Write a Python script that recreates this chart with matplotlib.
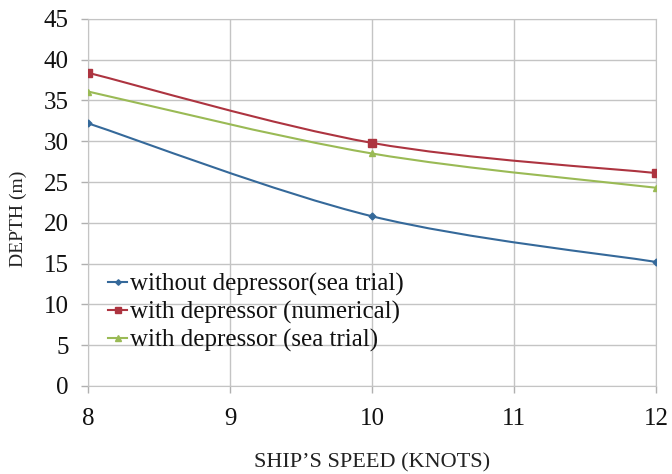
import numpy as np
import matplotlib
matplotlib.use("Agg")
import matplotlib.pyplot as plt
from matplotlib.path import Path
from matplotlib.patches import PathPatch
from matplotlib.lines import Line2D

speed = [8, 10, 12]
depth_without_sea = [32.2, 20.8, 15.2]
depth_with_num = [38.4, 29.8, 26.1]
depth_with_sea = [36.1, 28.5, 24.3]

labels = ["without depressor(sea trial)",
          "with depressor (numerical)",
          "with depressor (sea trial)"]
colors = ["#35699a", "#ad3440", "#9aba55"]
markers = ["D", "s", "^"]
msizes = [3.5, 6, 5]

plt.rcParams['font.family'] = ['Liberation Serif', 'DejaVu Serif']


def smooth_path(x, y, t=1.0 / 6):
    # excel-like smoothed line: cubic bezier with neighbour based control points
    x = np.asarray(x, float)
    y = np.asarray(y, float)
    n = len(x)
    verts = [(x[0], y[0])]
    codes = [Path.MOVETO]
    for i in range(n - 1):
        p0 = np.array([x[max(i - 1, 0)], y[max(i - 1, 0)]])
        p1 = np.array([x[i], y[i]])
        p2 = np.array([x[i + 1], y[i + 1]])
        p3 = np.array([x[min(i + 2, n - 1)], y[min(i + 2, n - 1)]])
        c1 = p1 + (p2 - p0) * t
        c2 = p2 - (p3 - p1) * t
        verts += [tuple(c1), tuple(c2), tuple(p2)]
        codes += [Path.CURVE4] * 3
    return Path(verts, codes)


fig = plt.figure(figsize=(6.72, 4.74), dpi=100)
ax = fig.add_axes([0.131, 0.186, 0.845, 0.774])

series = [depth_without_sea, depth_with_num, depth_with_sea]
handles = []
for ys, c, m, ms, lab in zip(series, colors, markers, msizes, labels):
    ax.add_patch(PathPatch(smooth_path(speed, ys), facecolor='none',
                           edgecolor=c, lw=1.5, zorder=3))
    ax.plot(speed, ys, ls='none', marker=m, color=c, ms=ms, zorder=4)
    handles.append(Line2D([], [], color=c, lw=1.5, marker=m, ms=ms * 0.8))

ax.set_xlim(8, 12)
ax.set_ylim(0, 45)
ax.set_xticks([8, 9, 10, 11, 12])
ax.set_yticks(np.arange(0, 46, 5))
ax.grid(True, color='#c4c4c4', lw=1.0)
ax.set_axisbelow(True)
for s in ax.spines.values():
    s.set_color('#c4c4c4')
ax.tick_params(colors='#b0b0b0', length=5, width=1.0, labelsize=18,
               labelcolor='#111111')
ax.tick_params(axis='x', pad=11)
ax.tick_params(axis='y', pad=9)

ax.set_xlabel("SHIP\u2019S SPEED (KNOTS)", fontsize=16, labelpad=17,
              color='#222222')
ax.set_ylabel("DEPTH (m)", fontsize=14, color='#222222')
ax.yaxis.set_label_coords(-0.108, 0.455)

leg = ax.legend(handles, labels, loc='lower left', bbox_to_anchor=(0.018, 0.064),
                frameon=False, fontsize=18, handlelength=0.75,
                handletextpad=0.1, labelspacing=0.2, borderaxespad=0.0)
for t in leg.get_texts():
    t.set_color('#111111')

fig.savefig("out.png", dpi=100)
